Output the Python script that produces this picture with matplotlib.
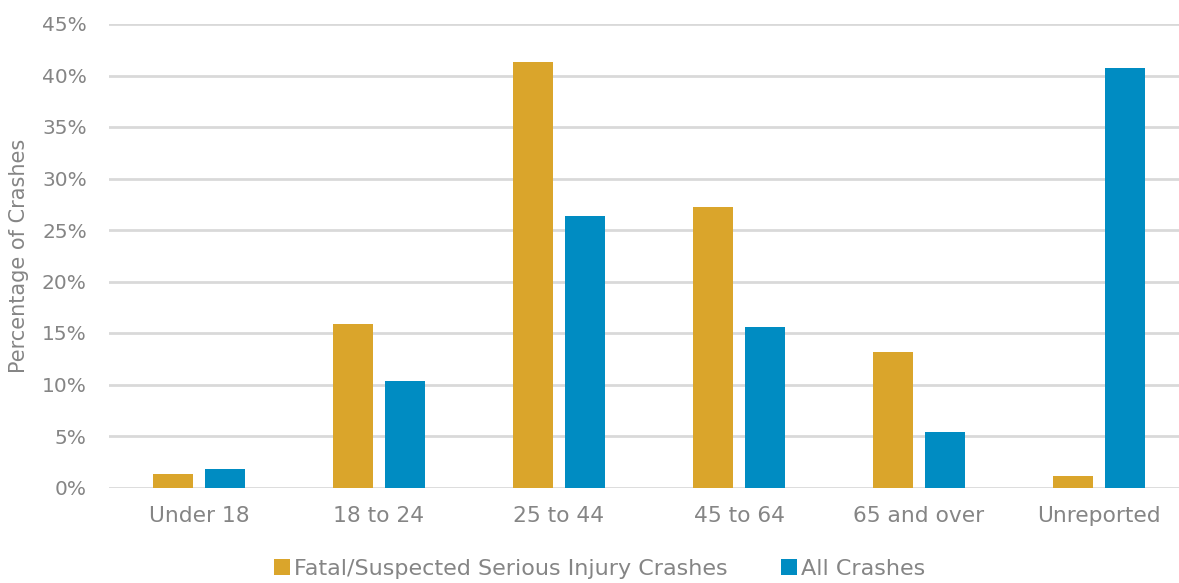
import numpy as np
import matplotlib
matplotlib.use("Agg")
import matplotlib.pyplot as plt
from matplotlib.ticker import FuncFormatter

categories = ["Under 18", "18 to 24", "25 to 44", "45 to 64", "65 and over", "Unreported"]
fatal_serious = [1.35, 15.9, 41.3, 27.2, 13.2, 1.1]
all_crashes = [1.75, 10.3, 26.4, 15.6, 5.4, 40.7]
series_names = ["Fatal/Suspected Serious Injury Crashes", "All Crashes"]

gold = "#DAA52B"
blue = "#008CC2"
text_gray = "#858585"
grid_gray = "#D9D9D9"

plt.rcParams['font.family'] = ['DejaVu Sans']

W, H = 1179, 583
fig = plt.figure(figsize=(W / 100, H / 100), dpi=100)
# plot area in pixels: left 109, right 1189 (runs past the edge), top 24, bottom 487.5
ax = fig.add_axes([109 / W, 1 - 487.5 / H, 1080 / W, 463.5 / H])

x = np.arange(len(categories))
bw = 40 / 180
off = 26 / 180
ax.bar(x - off, fatal_serious, bw, color=gold, label=series_names[0], zorder=3)
ax.bar(x + off, all_crashes, bw, color=blue, label=series_names[1], zorder=3)

ax.set_xlim(-0.5, len(categories) - 0.5)
ax.set_ylim(0, 45)
ax.set_yticks(np.arange(0, 46, 5))
ax.yaxis.set_major_formatter(FuncFormatter(lambda v, p: f"{v:.0f}%"))
ax.set_xticks(x)
ax.set_xticklabels(categories)

ax.grid(axis='y', color=grid_gray, linewidth=2, zorder=0)
ax.set_axisbelow(True)
for s in ax.spines.values():
    s.set_visible(False)
ax.tick_params(axis='both', length=0, colors=text_gray)
ax.tick_params(axis='y', pad=16, labelsize=14.5)
ax.tick_params(axis='x', pad=13, labelsize=15.7)

ax.set_ylabel("Percentage of Crashes", color=text_gray, fontsize=15)
ax.yaxis.set_label_coords(-80 / 1080, 0.5)

leg = fig.legend(loc='center', bbox_to_anchor=(600 / W, 1 - 569 / H), ncol=2,
                 frameon=False, fontsize=16, handlelength=0.7, handleheight=0.7,
                 handletextpad=0.2, columnspacing=2.4)
for t in leg.get_texts():
    t.set_color(text_gray)

fig.savefig("out.png", dpi=100)
